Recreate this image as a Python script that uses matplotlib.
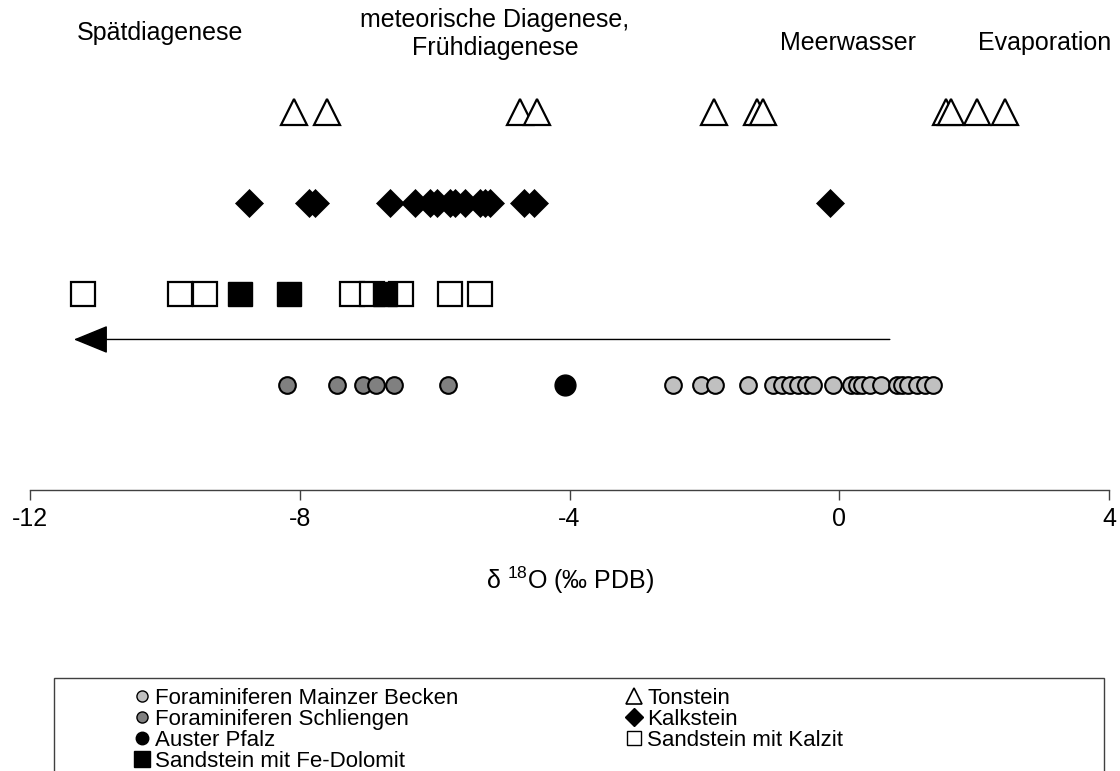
import matplotlib
matplotlib.use("Agg")
import matplotlib.pyplot as plt
from matplotlib.lines import Line2D
from matplotlib.patches import Rectangle

plt.rcParams['font.family'] = ['Liberation Sans', 'DejaVu Sans']
plt.rcParams['mathtext.fontset'] = 'custom'
plt.rcParams['mathtext.rm'] = 'Liberation Sans'

# ---- data (delta 18O, permil PDB) ----
tonstein = [-8.09, -7.60, -4.73, -4.48, -1.86, -1.22, -1.13, 1.58, 1.65, 2.04, 2.46]
kalkstein = [-8.75, -7.86, -7.77, -6.66, -6.29, -6.07, -5.97, -5.77, -5.70,
             -5.55, -5.33, -5.25, -5.18, -4.67, -4.52, -0.13]
sandstein_kalzit = [-11.22, -9.77, -9.40, -7.22, -6.93, -6.50, -5.77, -5.32]
sandstein_fedolomit = [-8.89, -8.16, -6.74]
foram_schliengen = [-8.19, -7.45, -7.06, -6.87, -6.60, -5.80]
auster_pfalz = [-4.06]
foram_mainz = [-2.47, -2.05, -1.84, -1.36, -0.98, -0.85, -0.73, -0.61, -0.49,
               -0.39, -0.10, 0.18, 0.26, 0.33, 0.46, 0.62, 0.85, 0.93, 1.02,
               1.15, 1.27, 1.39]
arrow_from = 0.75
arrow_to = -11.35
xticks = [-12, -8, -4, 0, 4]
xlabel = r'δ $^{18}$O (‰ PDB)'
zones = ["Spätdiagenese", "meteorische Diagenese,\nFrühdiagenese", "Meerwasser", "Evaporation"]
legend_col1 = ["Foraminiferen Mainzer Becken", "Foraminiferen Schliengen", "Auster Pfalz",
               "Sandstein mit Fe-Dolomit"]
legend_col2 = ["Tonstein", "Kalkstein", "Sandstein mit Kalzit"]

W, H = 1120, 771
fig = plt.figure(figsize=(W / 100, H / 100), dpi=100)
ax = fig.add_axes([30 / W, 1 - 490 / H, 1079 / W, 490 / H])

FS = 18
LFS = 16

def row(vals, y):
    return [y] * len(vals)

ax.plot(tonstein, row(tonstein, 4), ls='none', marker='^', ms=19, mfc='white',
        mec='black', mew=1.6)
ax.plot(kalkstein, row(kalkstein, 3), ls='none', marker='D', ms=14, mfc='black',
        mec='black', mew=0.5)
ax.plot(sandstein_kalzit, row(sandstein_kalzit, 2), ls='none', marker='s', ms=17,
        mfc='white', mec='black', mew=1.6)
ax.plot(sandstein_fedolomit, row(sandstein_fedolomit, 2), ls='none', marker='s', ms=17,
        mfc='black', mec='black', mew=1.0)
ax.plot(foram_schliengen, row(foram_schliengen, 1), ls='none', marker='o', ms=12,
        mfc='#808080', mec='black', mew=1.5)
ax.plot(auster_pfalz, row(auster_pfalz, 1), ls='none', marker='o', ms=15,
        mfc='black', mec='black', mew=1.0)
ax.plot(foram_mainz, row(foram_mainz, 1), ls='none', marker='o', ms=12,
        mfc='#C0C0C0', mec='black', mew=1.5)

ax.annotate('', xy=(arrow_to, 1.5), xytext=(arrow_from, 1.5),
            arrowprops=dict(arrowstyle='-|>,head_length=2.2,head_width=0.9',
                            color='black', lw=1.0, shrinkA=0, shrinkB=0))

ax.set_xlim(-12, 4)
ax.set_ylim(-0.154, 5.23)
ax.set_xticks(xticks)
ax.set_xticklabels([str(t) for t in xticks], fontsize=FS)
ax.set_yticks([])
for s in ['left', 'right', 'top']:
    ax.spines[s].set_visible(False)
ax.spines['bottom'].set_color('#404040')
ax.spines['bottom'].set_linewidth(1.0)
ax.tick_params(axis='x', direction='out', length=7, width=1.0, color='#404040', pad=5)
ax.patch.set_visible(False)

fig.text(570 / W, 1 - 580 / H, xlabel, ha='center', va='center', fontsize=FS)

fig.text(160 / W, 1 - 33 / H, zones[0], ha='center', va='center', fontsize=FS)
fig.text(495 / W, 1 - 34 / H, zones[1], ha='center', va='center', fontsize=FS,
         linespacing=1.25)
fig.text(848 / W, 1 - 43 / H, zones[2], ha='center', va='center', fontsize=FS)
fig.text(1045 / W, 1 - 43 / H, zones[3], ha='center', va='center', fontsize=FS)

# legend box
fig.patches.append(Rectangle((54 / W, -0.05), (1104 - 54) / W, 0.05 + 1 - 678 / H,
                             transform=fig.transFigure, fill=False,
                             edgecolor='#404040', lw=1.0))

h1 = [Line2D([], [], ls='none', marker='o', ms=8, mfc='#C0C0C0', mec='black', mew=1.0),
      Line2D([], [], ls='none', marker='o', ms=8, mfc='#808080', mec='black', mew=1.0),
      Line2D([], [], ls='none', marker='o', ms=9, mfc='black', mec='black'),
      Line2D([], [], ls='none', marker='s', ms=11, mfc='black', mec='black')]
h2 = [Line2D([], [], ls='none', marker='^', ms=11, mfc='white', mec='black', mew=1.2),
      Line2D([], [], ls='none', marker='D', ms=9, mfc='black', mec='black'),
      Line2D([], [], ls='none', marker='s', ms=10, mfc='white', mec='black', mew=1.0)]

kw = dict(frameon=False, fontsize=LFS, handlelength=0.6, handletextpad=0.3,
          labelspacing=0.0, borderpad=0, borderaxespad=0, loc='upper left')
fig.legend(h1, legend_col1, bbox_to_anchor=(135 / W, 1 - 688 / H), **kw)
fig.legend(h2, legend_col2, bbox_to_anchor=(627 / W, 1 - 688 / H), **kw)

fig.savefig('out.png', dpi=100)
